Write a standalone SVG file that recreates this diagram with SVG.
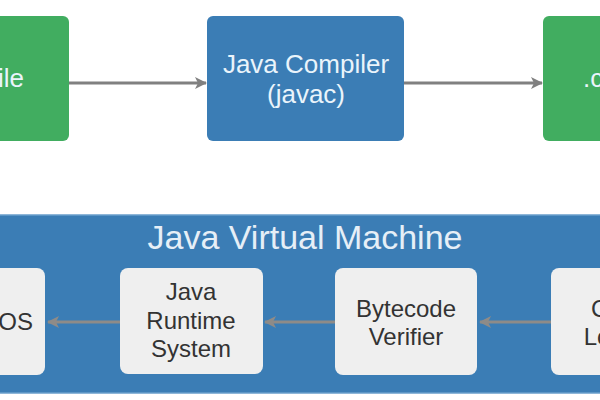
<svg xmlns="http://www.w3.org/2000/svg" width="600" height="400" viewBox="0 0 600 400">
  <defs>
    <style>
      .green { fill: #41ad60; }
      .blue { fill: #3b7db5; }
      .inner { fill: #efefef; }
      .wt { fill: #eaf4fb; font-family: "Liberation Sans", Arial, sans-serif; font-size: 26px; text-anchor: middle; }
      .dt { fill: #333333; font-family: "Liberation Sans", Arial, sans-serif; font-size: 24px; text-anchor: middle; }
      .title { fill: #e6eff7; font-family: "Liberation Sans", Arial, sans-serif; font-size: 34px; text-anchor: middle; }
      .top { stroke: #808080; stroke-width: 3; fill: none; }
      .bot { stroke: #8e8b88; stroke-width: 3; fill: none; }
    </style>
    <marker id="ah" viewBox="0 0 12 12" refX="11" refY="6" markerWidth="12" markerHeight="12" markerUnits="userSpaceOnUse" orient="auto">
      <path d="M0,0 L12,6 L0,12 L3,6 z" fill="#808080"/>
    </marker>
    <marker id="ah2" viewBox="0 0 12 12" refX="11" refY="6" markerWidth="12" markerHeight="12" markerUnits="userSpaceOnUse" orient="auto">
      <path d="M0,0 L12,6 L0,12 L3,6 z" fill="#8e8b88"/>
    </marker>
  </defs>
  <rect width="600" height="400" fill="#ffffff"/>

  <g id="source-file">
    <rect class="green" x="-128" y="16" width="197" height="125" rx="6"/>
    <text class="wt" x="24" y="87" style="text-anchor:end">.java file</text>
  </g>
  <g id="java-compiler">
    <rect class="blue" x="207" y="16" width="197" height="125" rx="6"/>
    <text class="wt" x="306" y="73">Java Compiler</text>
    <text class="wt" x="306" y="103">(javac)</text>
  </g>
  <g id="class-file">
    <rect class="green" x="543" y="16" width="197" height="125" rx="6"/>
    <text class="wt" x="583" y="87" style="text-anchor:start">.class file</text>
  </g>

  <g id="jvm">
    <rect class="blue" x="-5" y="215" width="610" height="178" stroke="#6a9fcb" stroke-width="1.5"/>
    <text class="title" x="305" y="249">Java Virtual Machine</text>
  </g>
  <g id="os">
    <rect class="inner" x="-100" y="268" width="145" height="107" rx="8"/>
    <text class="dt" x="33" y="330" style="text-anchor:end">OS</text>
  </g>
  <g id="jrs">
    <rect class="inner" x="120" y="268" width="143" height="106" rx="8"/>
    <text class="dt" x="191" y="300">Java</text>
    <text class="dt" x="191" y="329">Runtime</text>
    <text class="dt" x="191" y="357">System</text>
  </g>
  <g id="bytecode-verifier">
    <rect class="inner" x="335" y="268" width="142" height="107" rx="8"/>
    <text class="dt" x="406" y="317">Bytecode</text>
    <text class="dt" x="406" y="345">Verifier</text>
  </g>
  <g id="class-loader">
    <rect class="inner" x="551" y="268" width="142" height="107" rx="8"/>
    <text class="dt" x="621" y="317">Class</text>
    <text class="dt" x="621" y="345">Loader</text>
  </g>

  <g id="connectors">
    <line class="top" x1="69" y1="83" x2="206" y2="83" marker-end="url(#ah)"/>
    <line class="top" x1="404" y1="83" x2="542" y2="83" marker-end="url(#ah)"/>
    <line class="bot" x1="120" y1="322" x2="48" y2="322" marker-end="url(#ah2)"/>
    <line class="bot" x1="335" y1="322" x2="265" y2="322" marker-end="url(#ah2)"/>
    <line class="bot" x1="551" y1="322" x2="480" y2="322" marker-end="url(#ah2)"/>
  </g>
</svg>
